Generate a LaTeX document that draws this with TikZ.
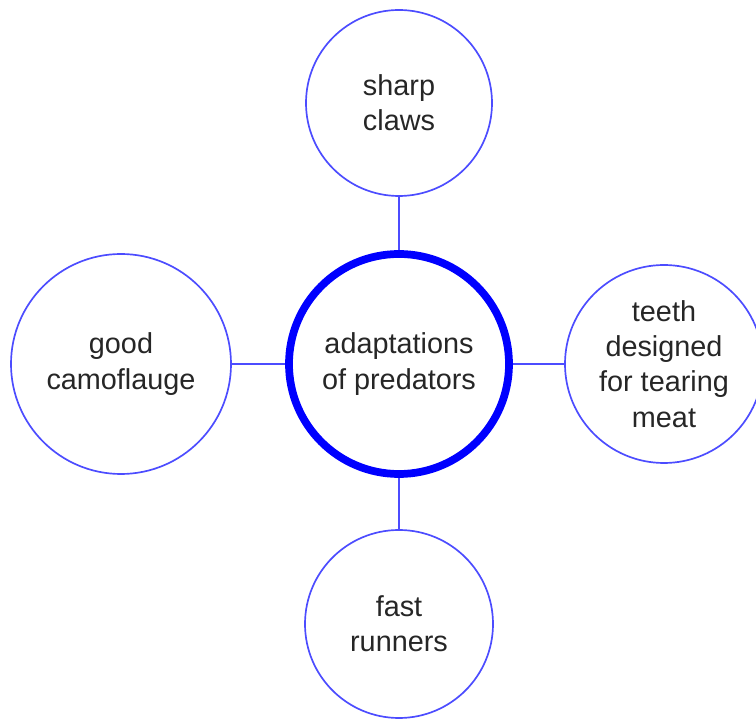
\documentclass[tikz,border=0pt]{standalone}
\usepackage{fontspec}
\setmainfont{Liberation Sans}
\definecolor{mapblue}{rgb}{.3,.3,1}
\definecolor{maptext}{rgb}{.15,.15,.15}

\begin{document}
\begin{tikzpicture}[
    idea/.style={circle,draw=mapblue,line width=1.2pt,align=center,
      text=maptext,font=\fontsize{20.5}{25}\selectfont,inner sep=0pt},
    hub/.style={idea,draw=blue,line width=5.5pt}]
      \useasboundingbox (0,0) rectangle (18.9,17.975);
      \node[hub,minimum size=5.5cm] (pred) at (9.975,8.875) {adaptations\\of predators};
      \node[idea,minimum size=4.65cm] (claws) at (9.975,15.4) {sharp\\claws};
      \node[idea,minimum size=5.5cm] (camo) at (3.025,8.875) {good\\camoflauge};
      \node[idea,minimum size=4.95cm] (teeth) at (16.6,8.875) {teeth\\designed\\for tearing\\meat};
      \node[idea,minimum size=4.7cm] (fast) at (9.975,2.375) {fast\\runners};
      \draw[mapblue,line width=1.2pt] (pred) -- (claws);
      \draw[mapblue,line width=1.2pt] (pred) -- (camo);
      \draw[mapblue,line width=1.2pt] (pred) -- (teeth);
      \draw[mapblue,line width=1.2pt] (pred) -- (fast);
    \end{tikzpicture}
\end{document}
